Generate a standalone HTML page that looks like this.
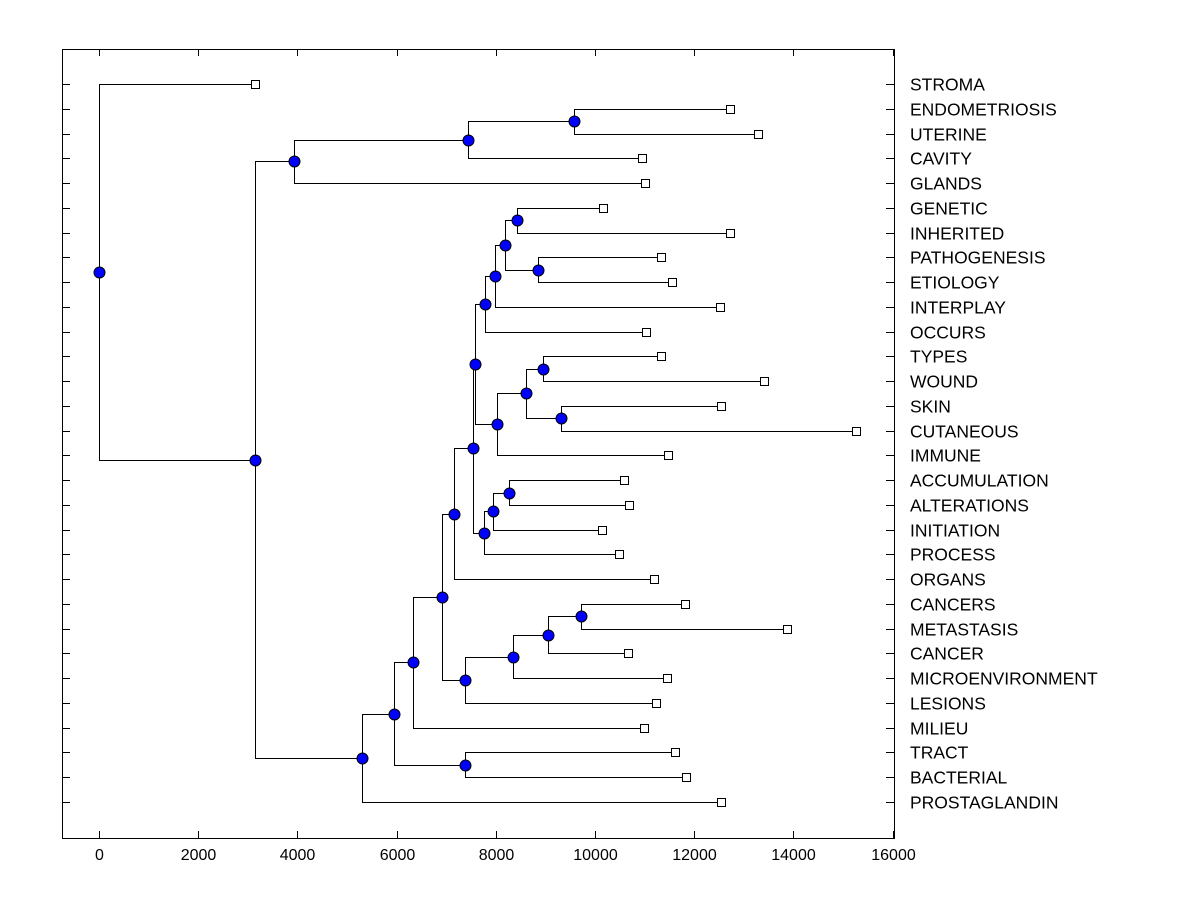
<!DOCTYPE html>
<html><head><meta charset="utf-8">
<style>
html,body{margin:0;padding:0;background:#fff;}
svg{display:block;font-family:"Liberation Sans",Arial,sans-serif;}
</style></head>
<body>
<svg id="chart" width="1200" height="900" xmlns="http://www.w3.org/2000/svg"></svg>
<script>
const leafNames = ["STROMA","ENDOMETRIOSIS","UTERINE","CAVITY","GLANDS","GENETIC","INHERITED","PATHOGENESIS","ETIOLOGY","INTERPLAY","OCCURS","TYPES","WOUND","SKIN","CUTANEOUS","IMMUNE","ACCUMULATION","ALTERATIONS","INITIATION","PROCESS","ORGANS","CANCERS","METASTASIS","CANCER","MICROENVIRONMENT","LESIONS","MILIEU","TRACT","BACTERIAL","PROSTAGLANDIN"];
const leafValues = [3145,12722,13286,10948,11008,10161,12722,11331,11552,12520,11028,11331,13407,12540,15262,11472,10585,10685,10141,10484,11190,11815,13871,10665,11452,11230,10988,11613,11835,12540];
// internal nodes: id, child1, child2, merge height
const nodeIds = ["F","E","C","W","X","V","U","S","Z","AA","Y","T","Q","AC","AB","R","P","K","O","N","M","L","J","H","I","G","D","B","A"];
const nodeLeft = ["ENDOMETRIOSIS","F","E","GENETIC","PATHOGENESIS","W","V","U","TYPES","SKIN","Z","Y","S","ACCUMULATION","AC","AB","Q","P","CANCERS","O","N","M","K","J","TRACT","H","G","C","STROMA"];
const nodeRight = ["UTERINE","CAVITY","GLANDS","INHERITED","ETIOLOGY","X","INTERPLAY","OCCURS","WOUND","CUTANEOUS","AA","IMMUNE","T","ALTERATIONS","INITIATION","PROCESS","R","ORGANS","METASTASIS","CANCER","MICROENVIRONMENT","LESIONS","L","MILIEU","BACTERIAL","I","PROSTAGLANDIN","D","B"];
const nodeHeights = [9577,7440,3931,8427,8851,8185,7984,7782,8952,9315,8609,8024,7581,8266,7944,7762,7540,7157,9718,9052,8347,7379,6915,6331,7379,5948,5302,3145,0];
const xTicks = [0,2000,4000,6000,8000,10000,12000,14000,16000];

const NS="http://www.w3.org/2000/svg";
const svg=document.getElementById('chart');
const L=62,R=894,T=49,B=838;
const xMin=-746,xMax=16028;
const xs=v=>L+(v-xMin)/(xMax-xMin)*(R-L);
const y0=84,dy=(802-84)/(leafNames.length-1);
const ys=i=>y0+i*dy;
function el(tag,attrs,parent){const e=document.createElementNS(NS,tag);for(const k in attrs)e.setAttribute(k,attrs[k]);(parent||svg).appendChild(e);return e;}

const frame=el('rect',{x:L+0.5,y:T+0.5,width:R-L,height:B-T,fill:'none',stroke:'#000','stroke-width':1});



const axisG=el('g',{});


xTicks.forEach(t=>{
  const x=Math.round(xs(t))+0.5;
  el('line',{x1:x,x2:x,y1:B,y2:B-7,stroke:'#000'},axisG);
  el('line',{x1:x,x2:x,y1:T,y2:T+7,stroke:'#000'},axisG);
  const tx=el('text',{x:x,y:B+22,'text-anchor':'middle','font-size':16,fill:'#000'},axisG);
  tx.textContent=t;
  
  
});

const pos={};
leafNames.forEach((n,i)=>{pos[n]={x:xs(leafValues[i]),y:ys(i)};});
nodeIds.forEach((id,i)=>{
  const a=pos[nodeLeft[i]],b=pos[nodeRight[i]];
  pos[id]={x:xs(nodeHeights[i]),y:(a.y+b.y)/2};
});

const linesG=el('g',{stroke:'#000','stroke-width':1,fill:'none'});


nodeIds.forEach((id,i)=>{
  const p=pos[id],a=pos[nodeLeft[i]],b=pos[nodeRight[i]];
  const x=Math.round(p.x)+0.5;
  el('path',{d:`M${Math.round(a.x)},${Math.round(a.y)+0.5}H${x}V${Math.round(b.y)+0.5}H${Math.round(b.x)}`},linesG);
});

leafNames.forEach((n,i)=>{
  const y=Math.round(ys(i))+0.5;
  el('line',{x1:L,x2:L+8,y1:y,y2:y,stroke:'#000'});
  el('line',{x1:R-8,x2:R,y1:y,y2:y,stroke:'#000'});
  const t=el('text',{x:910,y:y+6,'font-size':17.5,fill:'#000'});
  t.textContent=n;
  
  
});

nodeIds.forEach((id)=>{
  const p=pos[id];
  const c=el('circle',{cx:Math.round(p.x)+0.5,cy:Math.round(p.y)+0.5,r:5.5,fill:'#0000ff',stroke:'#000','stroke-width':1});
  
  
});
leafNames.forEach((n)=>{
  const p=pos[n];
  const s=el('rect',{x:Math.round(p.x)-3.5,y:Math.round(p.y)-3.5,width:8,height:8,fill:'#fff',stroke:'#000','stroke-width':1});
  
  
});
</script>
</body></html>
